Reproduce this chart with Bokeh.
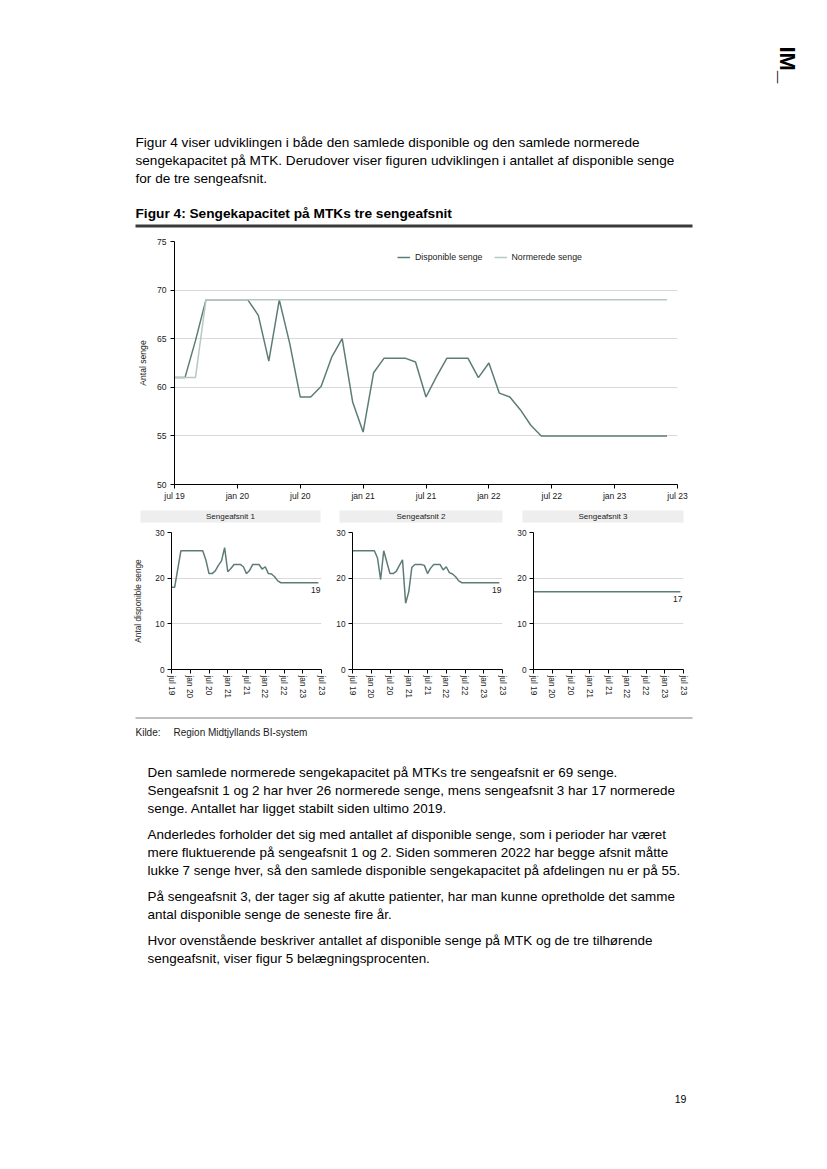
import math
from bokeh.plotting import figure
from bokeh.layouts import column, row
from bokeh.models import Range1d, FixedTicker, Legend, LegendItem, ColumnDataSource
from bokeh.core.properties import value
from bokeh.embed import file_html
from bokeh.resources import INLINE

FONT = "Liberation Sans"
DARK = "#5e7c77"
LIGHT = "#b7c9c4"
GRID = "#d9d9d9"
TXT = "#1a1a1a"
PAGE_W = 819

# ---------------- data ----------------
mnames = ["jan", "feb", "mar", "apr", "maj", "jun", "jul", "aug", "sep", "okt", "nov", "dec"]
months = [f"{mnames[(6 + i) % 12]} {19 + (6 + i) // 12}" for i in range(48)]  # jul 19 .. jun 23
tick_labels = ["jul 19", "jan 20", "jul 20", "jan 21", "jul 21", "jan 22", "jul 22", "jan 23", "jul 23"]
tick_pos = [6 * k for k in range(len(tick_labels))]

disponible = [61, 61, 64.8, 69, 69, 69, 69, 69, 67.4, 62.7, 69, 64.5,
              59, 59, 60.1, 63.1, 65, 58.5, 55.4, 61.5, 63, 63, 63, 62.6,
              59, 61.1, 63, 63, 63, 61, 62.5, 59.4, 59, 57.7, 56.1, 55,
              55, 55, 55, 55, 55, 55, 55, 55, 55, 55, 55, 55]
normerede = [61, 61, 61, 69, 69, 69, 69, 69, 69, 69, 69, 69,
             69, 69, 69, 69, 69, 69, 69, 69, 69, 69, 69, 69,
             69, 69, 69, 69, 69, 69, 69, 69, 69, 69, 69, 69,
             69, 69, 69, 69, 69, 69, 69, 69, 69, 69, 69, 69]
afsnit1 = [18, 18, 22, 26, 26, 26, 26, 26, 26, 26, 26, 24,
           21, 21, 21.6, 22.8, 23.8, 26.7, 21.4, 22.1, 23, 23, 23, 22.5,
           21, 21.7, 23, 23, 23, 22, 22.5, 21, 20.9, 20.3, 19.4, 19,
           19, 19, 19, 19, 19, 19, 19, 19, 19, 19, 19, 19]
afsnit2 = [26, 26, 26, 26, 26, 26, 26, 26, 24.4, 19.7, 26, 23.5,
           21, 21, 21.5, 22.8, 24, 14.5, 17, 22.4, 23, 23, 23, 22.8,
           21, 22.2, 23, 23, 23, 21.8, 22.5, 21.2, 20.9, 20.3, 19.4, 19,
           19, 19, 19, 19, 19, 19, 19, 19, 19, 19, 19, 19]
afsnit3 = [17, 17, 17, 17, 17, 17, 17, 17, 17, 17, 17, 17,
           17, 17, 17, 17, 17, 17, 17, 17, 17, 17, 17, 17,
           17, 17, 17, 17, 17, 17, 17, 17, 17, 17, 17, 17,
           17, 17, 17, 17, 17, 17, 17, 17, 17, 17, 17, 17]
panel_names = ["Sengeafsnit 1", "Sengeafsnit 2", "Sengeafsnit 3"]
panel_series = [afsnit1, afsnit2, afsnit3]

xidx = list(range(len(months)))
overrides = {p: l for p, l in zip(tick_pos, tick_labels)}


def style_axes(f, fs="8.6px"):
    for ax in (f.xaxis, f.yaxis):
        ax.axis_line_color = "black"
        ax.axis_line_width = 1
        ax.major_tick_line_color = "black"
        ax.major_tick_in = 0
        ax.major_tick_out = 4
        ax.minor_tick_line_color = None
        ax.major_label_text_font = FONT
        ax.major_label_text_font_size = fs
        ax.major_label_text_color = TXT
        ax.axis_label_text_font = FONT
        ax.axis_label_text_font_size = fs
        ax.axis_label_text_font_style = "normal"
        ax.axis_label_text_color = TXT
    f.xaxis.ticker = FixedTicker(ticks=tick_pos)
    f.xaxis.major_label_overrides = overrides
    f.xgrid.visible = False
    f.ygrid.grid_line_color = GRID
    f.ygrid.grid_line_width = 1


def page_fig(top, height):
    f = figure(width=PAGE_W, height=height, x_range=Range1d(0, PAGE_W),
               y_range=Range1d(-(top + height), -top),
               output_backend="svg", toolbar_location=None,
               x_axis_location=None, y_axis_location=None, min_border=0)
    f.grid.visible = False
    f.outline_line_color = None
    f.background_fill_color = "white"
    f.border_fill_color = "white"
    return f


def txt(f, x, y, s, size="13.6px", style="normal", align="left", color="#000000", angle=0):
    f.text(x=[x], y=[-y], text=[s], text_font=value(FONT), text_font_size=size,
           text_font_style=style, text_align=align, text_baseline="middle",
           text_color=color, angle=angle)


# ---------------- top text ----------------
top = page_fig(0, 232)
txt(top, 787, 46, "IM_", size="22px", style="bold", angle=-math.pi / 2)
for i, s in enumerate(["Figur 4 viser udviklingen i både den samlede disponible og den samlede normerede",
                       "sengekapacitet på MTK. Derudover viser figuren udviklingen i antallet af disponible senge",
                       "for de tre sengeafsnit."]):
    txt(top, 135, 142 + 18 * i, s, size="13.6px")
txt(top, 135, 213, "Figur 4: Sengekapacitet på MTKs tre sengeafsnit", size="13.7px", style="bold")
top.segment(x0=[135], y0=[-225.5], x1=[692], y1=[-225.5], line_color="#3a3a3a", line_width=3)

# ---------------- main chart ----------------
src = ColumnDataSource(dict(x=xidx, disp=disponible, norm=normerede))
p = figure(width=PAGE_W, height=271, x_range=Range1d(0, 48), y_range=Range1d(50, 75),
           output_backend="svg", toolbar_location=None,
           min_border_left=174, min_border_right=PAGE_W - 174 - 503, min_border_top=9, min_border_bottom=19)
p.outline_line_color = None
style_axes(p)
p.yaxis.ticker = FixedTicker(ticks=[50, 55, 60, 65, 70, 75])
p.xaxis.major_label_standoff = 2
p.yaxis.major_label_standoff = 4
p.yaxis.axis_label = "Antal senge"
p.yaxis.axis_label_standoff = 6
r_d = p.line("x", "disp", source=src, line_color=DARK, line_width=1.5)
r_n = p.line("x", "norm", source=src, line_color=LIGHT, line_width=1.5)
leg = Legend(items=[LegendItem(label="Disponible senge", renderers=[r_d]),
                    LegendItem(label="Normerede senge", renderers=[r_n])],
             location=(223, 222), orientation="horizontal",
             background_fill_alpha=0, border_line_color=None,
             label_text_font=FONT, label_text_font_size="8.8px", label_text_color=TXT,
             glyph_width=13, glyph_height=10, label_height=10, label_standoff=5,
             spacing=11, padding=0, margin=0)
p.add_layout(leg)

# ---------------- strips ----------------
fig_w = [327, 181, 181]
strip_left = [140, 12, 14]
strip_w = [180, 163, 161]
strips = []
for k in range(3):
    s = figure(width=fig_w[k], height=21, x_range=Range1d(0, 1), y_range=Range1d(0, 1),
               output_backend="svg", toolbar_location=None,
               x_axis_location=None, y_axis_location=None,
               min_border_left=strip_left[k], min_border_right=fig_w[k] - strip_left[k] - strip_w[k],
               min_border_top=7, min_border_bottom=2)
    s.grid.visible = False
    s.outline_line_color = None
    s.background_fill_color = "#eeeeee"
    s.text(x=[0.5], y=[0.5], text=[panel_names[k]], text_font=value(FONT), text_font_size="8px",
           text_align="center", text_baseline="middle", text_color=TXT)
    strips.append(s)

# ---------------- small multiples ----------------
panel_left = [171, 25, 25]
smalls = []
for k in range(3):
    vals = panel_series[k]
    f = figure(width=fig_w[k], height=181, x_range=Range1d(0, 48), y_range=Range1d(0, 30),
               output_backend="svg", toolbar_location=None,
               min_border_left=panel_left[k], min_border_right=fig_w[k] - panel_left[k] - 150,
               min_border_top=8, min_border_bottom=36)
    f.outline_line_color = None
    style_axes(f, fs="8.3px")
    f.yaxis.ticker = FixedTicker(ticks=[0, 10, 20, 30])
    f.xaxis.major_label_orientation = "vertical"
    f.xaxis.major_label_standoff = 2
    f.yaxis.major_label_standoff = 3
    if k == 0:
        f.yaxis.axis_label = "Antal disponible senge"
        f.yaxis.axis_label_standoff = 9
    f.line(xidx, vals, line_color=DARK, line_width=1.5)
    f.text(x=[xidx[-1]], y=[vals[-1]], text=[f"{vals[-1]:g}"], text_font=value(FONT),
           text_font_size="8.5px", text_align="right", text_baseline="top",
           x_offset=2, y_offset=4, text_color=TXT)
    smalls.append(f)

# ---------------- bottom text ----------------
bot = page_fig(705, 415)
bot.segment(x0=[135], y0=[-717.5], x1=[692], y1=[-717.5], line_color="#808080", line_width=1.2)
txt(bot, 135, 732, "Kilde:", size="10px", color=TXT)
txt(bot, 173, 732, "Region Midtjyllands BI-system", size="10px", color=TXT)
paras = [
    ["Den samlede normerede sengekapacitet på MTKs tre sengeafsnit er 69 senge.",
     "Sengeafsnit 1 og 2 har hver 26 normerede senge, mens sengeafsnit 3 har 17 normerede",
     "senge. Antallet har ligget stabilt siden ultimo 2019."],
    ["Anderledes forholder det sig med antallet af disponible senge, som i perioder har været",
     "mere fluktuerende på sengeafsnit 1 og 2. Siden sommeren 2022 har begge afsnit måtte",
     "lukke 7 senge hver, så den samlede disponible sengekapacitet på afdelingen nu er på 55."],
    ["På sengeafsnit 3, der tager sig af akutte patienter, har man kunne opretholde det samme",
     "antal disponible senge de seneste fire år."],
    ["Hvor ovenstående beskriver antallet af disponible senge på MTK og de tre tilhørende",
     "sengeafsnit, viser figur 5 belægningsprocenten."],
]
para_top = [772, 834, 896, 940]
for pt, lines in zip(para_top, paras):
    for i, s in enumerate(lines):
        txt(bot, 147, pt + 18 * i, s, size="13.45px")
txt(bot, 680, 1098, "19", size="10.5px", align="center")

layout = column(row(top), row(p), row(*[column(s) for s in strips], spacing=0),
                row(*[column(f) for f in smalls], spacing=0), row(bot), spacing=0)
open("out.html", "w").write(file_html(layout, INLINE))
